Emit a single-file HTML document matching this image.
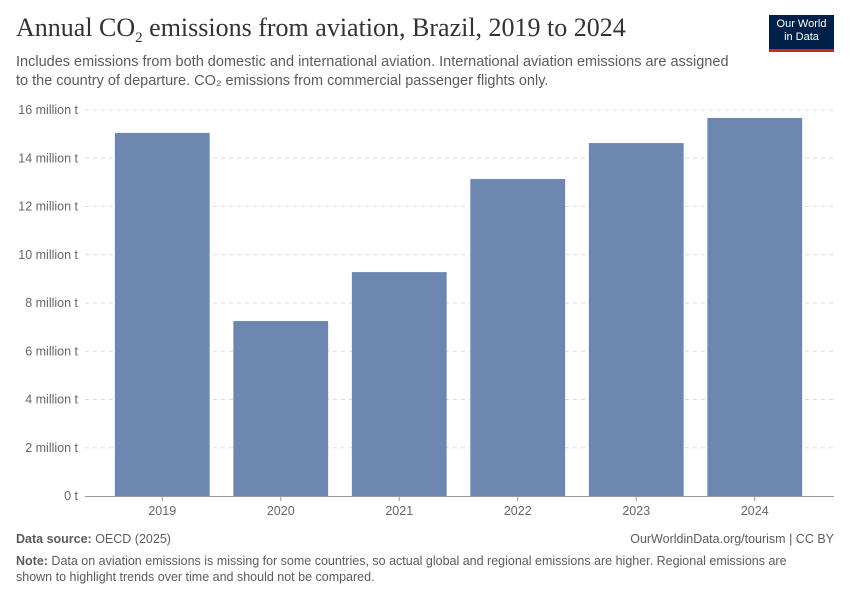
<!DOCTYPE html>
<html><head><meta charset="utf-8"><style>
body{margin:0;width:850px;height:600px;background:#fff;font-family:"Liberation Sans",sans-serif;position:relative;overflow:hidden}
.t{position:absolute;white-space:nowrap}
</style></head><body>
<div class="t" style="left:16px;top:13px;font-family:'Liberation Serif',serif;font-size:26px;color:#333">Annual CO<sub style="font-size:15px">2</sub> emissions from aviation, Brazil, 2019 to 2024</div>
<div style="position:absolute;left:769px;top:15px;width:65px;height:37px;background:#002147;border-bottom:3px solid #ce261e;color:#fff;font-size:11px;text-align:center;line-height:13px;padding-top:3px;box-sizing:border-box">Our World<br>in Data</div>
<div class="t" style="left:16px;top:53px;font-size:14.5px;color:#5b5b5b;line-height:19px">Includes emissions from both domestic and international aviation. International aviation emissions are assigned<br>to the country of departure. CO₂ emissions from commercial passenger flights only.</div>
<svg id="c" width="850" height="600" style="position:absolute;left:0;top:0"></svg>
<div class="t" style="left:16px;top:532px;font-size:12.5px;color:#5b5b5b"><b>Data source:</b> OECD (2025)</div>
<div class="t" style="right:16px;top:532px;font-size:12.5px;color:#5b5b5b">OurWorldinData.org/tourism | CC BY</div>
<div class="t" style="left:16px;top:553px;font-size:12.5px;color:#5b5b5b;line-height:16px"><b>Note:</b> Data on aviation emissions is missing for some countries, so actual global and regional emissions are higher. Regional emissions are<br>shown to highlight trends over time and should not be compared.</div>
<script>
const categories=["2019","2020","2021","2022","2023","2024"];
const values=[15.05,7.25,9.28,13.14,14.63,15.67];
const ticks=[0,2,4,6,8,10,12,14,16];
const tickLabels=["0 t","2 million t","4 million t","6 million t","8 million t","10 million t","12 million t","14 million t","16 million t"];
const NS="http://www.w3.org/2000/svg",svg=document.getElementById('c');
const x0=85,x1=834,bx0=103,bx1=814,yb=496,yt=110;
const y=v=>yb-(v/16)*(yb-yt);
const band=(bx1-bx0)/categories.length;
function mk(t,a,p){const e=document.createElementNS(NS,t);for(const k in a)e.setAttribute(k,a[k]);(p||svg).appendChild(e);return e;}
ticks.forEach((v,i)=>{
 if(v>0){const l=mk('line',{x1:x0,x2:x1,y1:y(v),y2:y(v),stroke:'#ddd','stroke-dasharray':'4,4'});
 
 }
 const t=mk('text',{x:78,y:y(v)+4,'text-anchor':'end','font-size':'12.5','fill':'#666','font-family':'Liberation Sans'});
 t.textContent=tickLabels[i];
 
 
});
categories.forEach((c,i)=>{
 const bx=bx0+band*i+band*0.1,bw=band*0.8;
 const r=mk('rect',{x:bx,y:y(values[i]),width:bw,height:yb-y(values[i]),fill:'#6d87b0'});
 
 
 mk('line',{x1:bx+bw/2,x2:bx+bw/2,y1:yb,y2:yb+5,stroke:'#999'});
 const t=mk('text',{x:bx+bw/2,y:yb+19,'text-anchor':'middle','font-size':'12.5','fill':'#666','font-family':'Liberation Sans'});
 t.textContent=c;
 
 
});
const ax=mk('line',{x1:x0,x2:x1,y1:yb+0.5,y2:yb+0.5,stroke:'#999'});


</script>
</body></html>
